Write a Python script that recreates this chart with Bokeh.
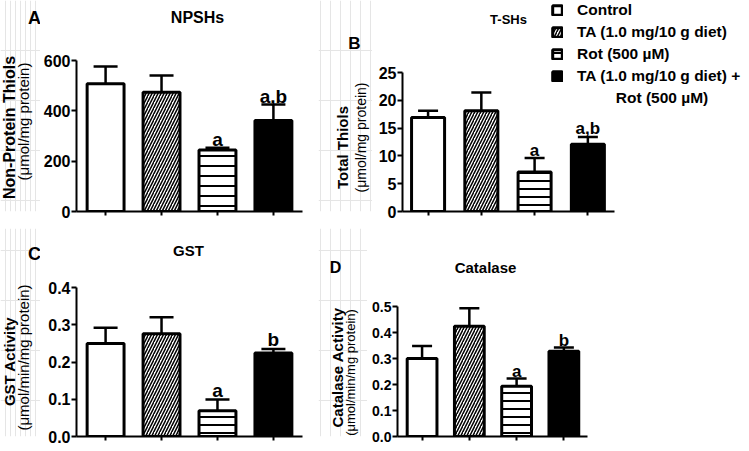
import math
from bokeh.plotting import figure
from bokeh.models import (ColumnDataSource, Whisker, TeeHead, Label, FixedTicker, Range1d,
                          Legend, LegendItem, NumeralTickFormatter)
from bokeh.layouts import row, column
from bokeh.core.properties import value
from bokeh.embed import file_html
from bokeh.resources import INLINE

# ---------------- data ----------------
groups = ["Control", "TA (1.0 mg/10 g diet)", "Rot (500 µM)", "TA (1.0 mg/10 g diet) + Rot (500 µM)"]
legend_labels = ["Control", "TA (1.0 mg/10 g diet)", "Rot (500 µM)",
                 "TA (1.0 mg/10 g diet) +", "\u00a0" * 9 + "Rot (500 µM)"]

npshs_mean = [508, 474, 244, 362]
npshs_sem = [68, 66, 9, 63]
npshs_sig = ["", "", "a", "a,b"]
npshs_ticks = [0, 200, 400, 600]

tshs_mean = [16.9, 18.1, 7.1, 12.1]
tshs_sem = [1.2, 3.3, 2.5, 1.3]
tshs_sig = ["", "", "a", "a,b"]
tshs_ticks = [0, 5, 10, 15, 20, 25]

gst_mean = [0.250, 0.276, 0.069, 0.224]
gst_sem = [0.042, 0.044, 0.030, 0.011]
gst_sig = ["", "", "a", "b"]
gst_ticks = [0.0, 0.1, 0.2, 0.3, 0.4]

cat_mean = [0.300, 0.424, 0.193, 0.328]
cat_sem = [0.048, 0.069, 0.030, 0.014]
cat_sig = ["", "", "a", "b"]
cat_ticks = [0.0, 0.1, 0.2, 0.3, 0.4, 0.5]

FONT = "Liberation Sans"
fills = ["white", "white", "white", "black"]
hatches = [" ", "/", "-", " "]


class Panel:
    pass


def make_panel(mean, sem, sig, ticks, fmt, canvas_l, canvas_r, canvas_top, H,
               frame_l, frame_bot, top_tick_px, ax_r, d0, d1, bw, tee, rot_scale,
               tick_fs, sig_fs, sig_gap):
    W = canvas_r - canvas_l
    k = (ax_r - frame_l) / (d1 - d0)
    xr = (d0, d1 + (canvas_r - ax_r) / k)
    ky = (frame_bot - top_tick_px) / ticks[-1]
    yr = (0, (frame_bot - canvas_top) / ky)
    p = figure(width=W, height=H, min_border_left=frame_l - canvas_l, min_border_right=0,
               min_border_top=0, min_border_bottom=H - (frame_bot - canvas_top),
               x_range=Range1d(*xr), y_range=Range1d(*yr),
               output_backend="svg", toolbar_location=None, tools="")
    p.outline_line_color = None
    p.grid.visible = False
    xs = list(range(len(mean)))
    upper = [m + s for m, s in zip(mean, sem)]
    src = ColumnDataSource(dict(x=xs, mean=mean, upper=upper))
    wh = Whisker(source=src, base="x", upper="upper", lower="mean", dimension="height",
                 line_width=2.5, line_color="black",
                 upper_head=TeeHead(size=tee, line_width=2.5, line_color="black"),
                 lower_head=None)
    p.add_layout(wh)
    rends = []
    for i in xs:
        s = ColumnDataSource(dict(x=[xs[i]], top=[mean[i]]))
        kw = {}
        if hatches[i] != " ":
            kw = dict(hatch_pattern=hatches[i], hatch_color="black",
                      hatch_scale=(6 if hatches[i] == "/" else rot_scale),
                      hatch_weight=(1.5 if hatches[i] == "/" else 2))
        r = p.vbar(x="x", top="top", width=bw, source=s, fill_color=fills[i],
                   line_color="black", line_width=3, **kw)
        rends.append(r)
    sel = [i for i in xs if sig[i]]
    ssrc = ColumnDataSource(dict(x=[xs[i] for i in sel], upper=[upper[i] for i in sel],
                                 sig=[sig[i] for i in sel]))
    p.text(x="x", y="upper", text="sig", source=ssrc, text_align="center",
           text_baseline="alphabetic", y_offset=-sig_gap,
           text_font=value(FONT), text_font_style="bold", text_font_size=f"{sig_fs}px",
           text_color="black")
    # axes
    p.yaxis.ticker = FixedTicker(ticks=ticks)
    p.yaxis.bounds = (ticks[0], ticks[-1])
    if fmt:
        p.yaxis.formatter = NumeralTickFormatter(format=fmt)
    p.xaxis.ticker = FixedTicker(ticks=xs)
    p.xaxis.bounds = (d0, d1)
    for ax in (p.xaxis, p.yaxis):
        ax.axis_line_width = 2
        ax.major_tick_line_width = 2
        ax.major_tick_in = 0
        ax.minor_tick_line_color = None
        ax.major_label_text_font = FONT
        ax.major_label_text_font_style = "bold"
        ax.axis_line_color = "black"
        ax.major_tick_line_color = "black"
    p.yaxis.major_label_text_color = "black"
    p.yaxis.major_tick_out = 5
    p.yaxis.major_label_standoff = 1
    p.yaxis.major_label_text_font_size = f"{tick_fs}px"
    p.xaxis.major_tick_out = 4
    p.xaxis.major_label_text_font_size = "0px"
    p.xaxis.major_label_text_color = None
    p.xaxis.major_label_standoff = 0
    P = Panel()
    P.p, P.rends = p, rends
    P.xd = lambda px: d0 + (px - frame_l) / k
    P.yd = lambda py: (frame_bot - py) / ky
    return P


def title(P, x, y, text, size):
    P.p.add_layout(Label(x=P.xd(x), y=P.yd(y), text=text, text_font=FONT,
                         text_font_size=f"{size}px", text_font_style="bold",
                         text_align="center", text_baseline="middle", text_color="black"))


def strip(x0, x1, top, H, frame_bot, labels):
    s = figure(width=x1 - x0, height=H, x_range=Range1d(x0, x1), y_range=Range1d(frame_bot, top),
               min_border_left=0, min_border_right=0, min_border_top=0,
               min_border_bottom=H - (frame_bot - top),
               x_axis_location=None, y_axis_location=None,
               output_backend="svg", toolbar_location=None, tools="")
    s.outline_line_color = None
    for (x, y, text, size, bold, rot) in labels:
        s.add_layout(Label(x=x, y=y, text=text, text_font=FONT, text_font_size=f"{size}px",
                           text_font_style="bold" if bold else "normal",
                           text_align="center", text_baseline="middle",
                           angle=(math.pi / 2 if rot else 0), text_color="black"))
    return s


# ---------------- row 1 ----------------
H1, H2 = 228, 223
FB1 = 211          # frame bottom (x axis) row 1
FB2 = 436          # frame bottom row 2

A = make_panel(npshs_mean, npshs_sem, npshs_sig, npshs_ticks, None,
               40, 318, 0, H1, 76, FB1, 60, 302, -0.52, 3.52, 0.66, 24, 10, 16, 19, 8)
title(A, 197, 17, "NPSHs", 16)
sA = strip(0, 40, 0, H1, FB1, [
    (34, 17, "A", 18, True, False),
    (9, 127, "Non-Protein Thiols", 16, True, True),
    (23, 121, "(μmol/mg protein)", 15, False, True)])

B = make_panel(tshs_mean, tshs_sem, tshs_sig, tshs_ticks, None,
               372, 749, 0, H1, 402, FB1, 72, 614, -0.48, 3.5, 0.62, 20, 8, 16, 17, 8)
title(B, 508, 19, "T-SHs", 13)
sB = strip(318, 372, 0, H1, FB1, [
    (354, 43, "B", 17, True, False),
    (342, 147, "Total Thiols", 15, True, True),
    (360, 137, "(μmol/mg protein)", 14, False, True)])

dummy = B.p.vbar(x=[], top=[], width=0.5, fill_alpha=0, line_alpha=0)
items = [LegendItem(label=legend_labels[i], renderers=[B.rends[i]]) for i in range(4)]
items.append(LegendItem(label=legend_labels[4], renderers=[dummy]))
leg = Legend(items=items, location=(149, FB1 - 108), orientation="vertical", padding=0, margin=0,
             spacing=2, glyph_width=12, glyph_height=12, label_standoff=14, label_height=20,
             label_text_font_size="15.5px", label_text_font_style="bold", label_text_font=FONT,
             label_text_color="black", border_line_alpha=0, background_fill_alpha=0)
B.p.add_layout(leg)

# ---------------- row 2 ----------------
C = make_panel(gst_mean, gst_sem, gst_sig, gst_ticks, "0.0",
               40, 318, 228, H2, 76, FB2, 287, 302, -0.52, 3.52, 0.66, 24, 8, 16, 19, 9)
title(C, 188, 250, "GST", 15)
sC = strip(0, 40, 228, H2, FB2, [
    (34, 253, "C", 18, True, False),
    (9, 361, "GST Activity", 15, True, True),
    (23, 357, "(μmol/min/mg protein)", 15, False, True)])

D = make_panel(cat_mean, cat_sem, cat_sig, cat_ticks, "0.0",
               367, 749, 228, H2, 397, FB2, 306, 587, -0.52, 3.5, 0.63, 20, 8, 14, 17, 7)
title(D, 485, 267, "Catalase", 15)
sD = strip(318, 367, 228, H2, FB2, [
    (335, 267, "D", 16, True, False),
    (337, 367, "Catalase Activity", 15, True, True),
    (350, 372, "(μmol/min/mg protein)", 13, False, True)])

layout = column(row(sA, A.p, sB, B.p, spacing=0), row(sC, C.p, sD, D.p, spacing=0), spacing=0)
open("out.html", "w").write(file_html(layout, INLINE))
